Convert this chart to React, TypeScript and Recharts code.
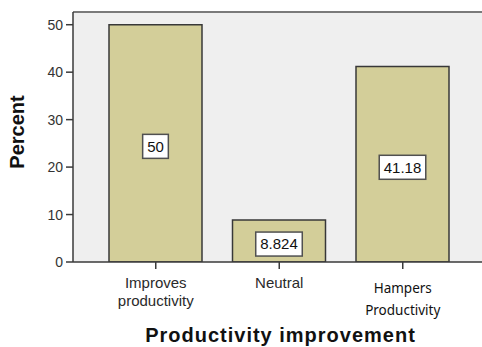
import React from 'react';
import { BarChart, Bar, XAxis, YAxis, CartesianGrid, ReferenceLine, LabelList, Label } from 'recharts';

// Survey responses: share of respondents (%) per answer
const categories = ['Improves productivity', 'Neutral', 'Hampers Productivity'];
const percents = [50, 8.824, 41.18];
const valueLabels = ['50', '8.824', '41.18'];
const yTicks = [0, 10, 20, 30, 40, 50];
const yMax = 52.68;

const data = categories.map((category, i) => ({
  category,
  percent: percents[i],
  label: valueLabels[i],
}));

const ARIAL = '"Liberation Sans", Arial, sans-serif';
const CALIBRI = '"Noto Sans", "Open Sans", sans-serif';
const AXIS_DARK = '#3a3a3a';

// rough width of a numeric string in em units (Arial metrics)
const numericWidth = (s: string, fs: number) =>
  s.split('').reduce((w, ch) => w + (ch === '.' ? 0.278 : 0.556), 0) * fs;

const ValueBox = (props: any) => {
  const { x, y, width, height, value } = props;
  const fs = 15;
  const cx = Number(x) + Number(width) / 2;
  const cy = Number(y) + Number(height) / 2 + 3;
  const w = numericWidth(String(value), fs) + 9;
  const h = 24;
  return (
    <g>
      <rect x={cx - w / 2} y={cy - h / 2} width={w} height={h} fill="#ffffff" stroke="#505050" strokeWidth={1.5} />
      <text x={cx} y={cy + 5.3} textAnchor="middle" fontFamily={ARIAL} fontSize={fs} fill="#111">
        {value}
      </text>
    </g>
  );
};

const CategoryTick = (props: any) => {
  const { x, y, payload, index } = props;
  const words = String(payload.value).split(' ');
  if (index === 2) {
    return (
      <g>
        {words.map((wd, i) => (
          <text key={i} x={x} y={y + 24 + i * 22} textAnchor="middle" fontFamily={CALIBRI} fontSize={13.5} fill="#111">
            {wd}
          </text>
        ))}
      </g>
    );
  }
  return (
    <g>
      {words.map((wd, i) => (
        <text key={i} x={x} y={y + 19 + i * 18} textAnchor="middle" fontFamily={ARIAL} fontSize={15} fill="#2a2a2a">
          {wd}
        </text>
      ))}
    </g>
  );
};

export default function App() {
  return (
    <div style={{ position: 'absolute', left: 0, top: 0, width: 482, height: 347, background: '#fff', overflow: 'hidden' }}>
      <BarChart width={482} height={347} data={data} margin={{ top: 12, right: 0, bottom: 55, left: 0 }}>
        <CartesianGrid horizontal={false} vertical={false} fill="#efefef" stroke="none" />
        <ReferenceLine y={yMax} stroke="#7a7a7a" strokeWidth={2} />
        <XAxis
          dataKey="category"
          height={30}
          padding={{ left: 21, right: 17.5 }}
          axisLine={{ stroke: AXIS_DARK, strokeWidth: 1.5 }}
          tickLine={{ stroke: AXIS_DARK, strokeWidth: 1.5 }}
          tickSize={7}
          tickMargin={0}
          tick={<CategoryTick />}
          interval={0}
        >
          <Label
            content={() => (
              <text x={280.5} y={341.5} textAnchor="middle" fontFamily={ARIAL} fontWeight="bold" fontSize={20} letterSpacing={1} fill="#111">
                Productivity improvement
              </text>
            )}
          />
        </XAxis>
        <YAxis
          width={73}
          domain={[0, yMax]}
          ticks={yTicks}
          allowDataOverflow
          axisLine={{ stroke: AXIS_DARK, strokeWidth: 1.5 }}
          tickLine={{ stroke: AXIS_DARK, strokeWidth: 1.5 }}
          tickSize={7}
          tickMargin={3}
          tick={{ fontFamily: ARIAL, fontSize: 14, fill: '#333' }}
        >
          <Label
            content={() => (
              <text x={24} y={132} transform="rotate(-90 24 132)" textAnchor="middle" fontFamily={ARIAL} fontWeight="bold" fontSize={20} fill="#111">
                Percent
              </text>
            )}
          />
        </YAxis>
        <Bar dataKey="percent" barSize={93} fill="#d3ce99" stroke="#383838" strokeWidth={1.5} isAnimationActive={false}>
          <LabelList dataKey="label" content={<ValueBox />} />
        </Bar>
      </BarChart>
    </div>
  );
}
